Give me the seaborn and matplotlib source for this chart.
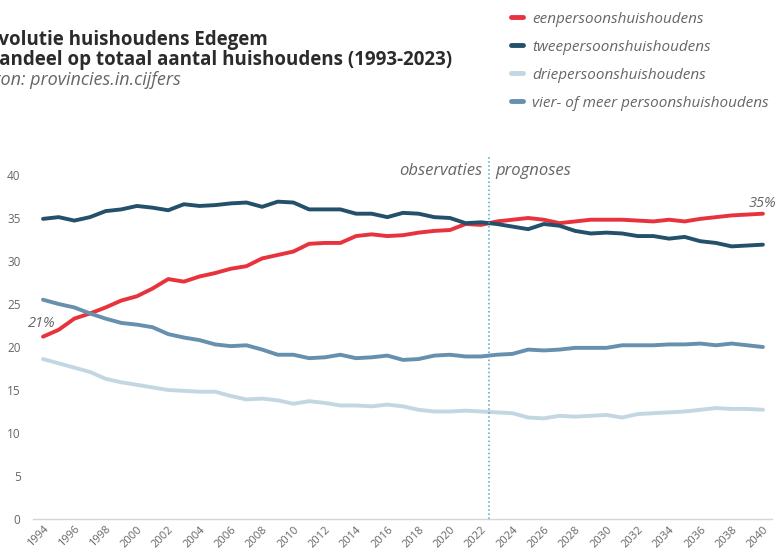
import numpy as np
import pandas as pd
import matplotlib.pyplot as plt
import seaborn as sns

# aandeel huishoudens per type (%), Edegem
jaren = list(range(1994, 2041))
een = [21.2, 22.0, 23.3, 23.9, 24.6, 25.4, 25.9, 26.8, 27.9, 27.6,
       28.2, 28.6, 29.1, 29.4, 30.3, 30.7, 31.1, 32.0, 32.1, 32.1,
       32.9, 33.1, 32.9, 33.0, 33.3, 33.5, 33.6, 34.3, 34.2, 34.6,
       34.8, 35.0, 34.8, 34.4, 34.6, 34.8, 34.8, 34.8, 34.7, 34.6,
       34.8, 34.6, 34.9, 35.1, 35.3, 35.4, 35.5]
twee = [34.9, 35.1, 34.7, 35.1, 35.8, 36.0, 36.4, 36.2, 35.9, 36.6,
        36.4, 36.5, 36.7, 36.8, 36.3, 36.9, 36.8, 36.0, 36.0, 36.0,
        35.5, 35.5, 35.1, 35.6, 35.5, 35.1, 35.0, 34.4, 34.5, 34.3,
        34.0, 33.7, 34.3, 34.1, 33.5, 33.2, 33.3, 33.2, 32.9, 32.9,
        32.6, 32.8, 32.3, 32.1, 31.7, 31.8, 31.9]
drie = [18.6, 18.1, 17.6, 17.1, 16.3, 15.9, 15.6, 15.3, 15.0, 14.9,
        14.8, 14.8, 14.3, 13.9, 14.0, 13.8, 13.4, 13.7, 13.5, 13.2,
        13.2, 13.1, 13.3, 13.1, 12.7, 12.5, 12.5, 12.6, 12.5, 12.4,
        12.3, 11.8, 11.7, 12.0, 11.9, 12.0, 12.1, 11.8, 12.2, 12.3,
        12.4, 12.5, 12.7, 12.9, 12.8, 12.8, 12.7]
vier = [25.5, 25.0, 24.6, 23.9, 23.3, 22.8, 22.6, 22.3, 21.5, 21.1,
        20.8, 20.3, 20.1, 20.2, 19.7, 19.1, 19.1, 18.7, 18.8, 19.1,
        18.7, 18.8, 19.0, 18.5, 18.6, 19.0, 19.1, 18.9, 18.9, 19.1,
        19.2, 19.7, 19.6, 19.7, 19.9, 19.9, 19.9, 20.2, 20.2, 20.2,
        20.3, 20.3, 20.4, 20.2, 20.4, 20.2, 20.0]

labels = ['eenpersoonshuishoudens', 'tweepersoonshuishoudens',
          'driepersoonshuishoudens', 'vier- of meer persoonshuishoudens']
kleuren = ['#e8323c', '#23506a', '#c3d7e2', '#6690ae']
grens = 2022.5

df = pd.DataFrame({
    'jaar': jaren * 4,
    'aandeel': een + twee + drie + vier,
    'type': np.repeat(labels, len(jaren)),
})

sns.set_style('white')
plt.rcParams['font.family'] = ['Open Sans', 'DejaVu Sans']
grijs = '#666666'

fig = plt.figure(figsize=(7.78, 5.55), dpi=100)
ax = fig.add_axes([33 / 778, 1 - 519 / 555, (772 - 33) / 778, 344 / 555])

sns.lineplot(data=df, x='jaar', y='aandeel', hue='type', hue_order=labels,
             palette=dict(zip(labels, kleuren)), linewidth=2.8, ax=ax)

ax.set_xlim(1993.36, 2040.58)
ax.set_ylim(0, 40)
ax.set_xticks(range(1994, 2041, 2))
ax.set_xticklabels([str(j) for j in range(1994, 2041, 2)], rotation=45,
                   ha='right', va='top', rotation_mode='anchor')
ax.set_yticks(range(0, 41, 5))
ax.tick_params(axis='both', length=0, colors=grijs, labelsize=8.5)
ax.tick_params(axis='y', pad=9)
ax.tick_params(axis='x', pad=3.5, labelsize=8)
ax.set_xlabel('')
ax.set_ylabel('')
for s in ['left', 'top', 'right']:
    ax.spines[s].set_visible(False)
ax.spines['bottom'].set_color('#d5d5d5')
ax.spines['bottom'].set_linewidth(1)

# grens observaties / prognoses
ax.axvline(grens, ymin=0, ymax=1.052, color='#4aa3d0', linestyle=':',
           linewidth=1.1, clip_on=False)
ax.text(grens - 0.45, 40.5, 'observaties', ha='right', va='center',
        style='italic', color=grijs, fontsize=12)
ax.text(grens + 0.4, 40.5, 'prognoses', ha='left', va='center',
        style='italic', color=grijs, fontsize=12)

ax.text(1993.9, 22.7, '21%', ha='center', va='center', style='italic',
        color=grijs, fontsize=10.5)
ax.text(2039.1, 36.7, '35%', ha='left', va='center', style='italic',
        color=grijs, fontsize=10.5, clip_on=False)

# legende
handles, lbls = ax.get_legend_handles_labels()
ax.get_legend().remove()
leg = fig.legend(handles, lbls, loc='upper left',
                 bbox_to_anchor=(503 / 778, 1 - 4 / 555), frameon=False,
                 handlelength=0.8, handletextpad=0.6, labelspacing=0.85,
                 borderpad=0, prop={'style': 'italic', 'size': 11})
for t in leg.get_texts():
    t.set_color(grijs)
for h in leg.legend_handles:
    h.set_linewidth(3.5)

# titel (links afgesneden zoals in origineel)
fig.text(-12 / 778, 1 - 40 / 555, 'Evolutie huishoudens Edegem',
         fontsize=13.5, fontweight='bold', color='#2b2b2b', va='center')
fig.text(-12 / 778, 1 - 60 / 555,
         'aandeel op totaal aantal huishoudens (1993-2023)',
         fontsize=13.5, fontweight='bold', color='#2b2b2b', va='center')
fig.text(-17 / 778, 1 - 80 / 555, 'bron: provincies.in.cijfers',
         fontsize=13, style='italic', color=grijs, va='center')

fig.savefig('out.png', dpi=100)
